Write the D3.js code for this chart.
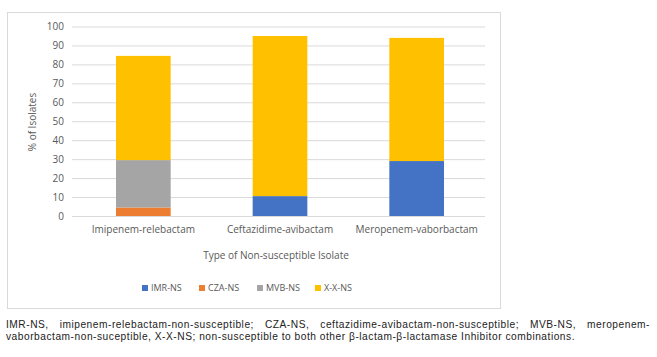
<!DOCTYPE html>
<html><head><meta charset="utf-8">
<script src="https://cdn.jsdelivr.net/npm/d3@7"></script>
<style>
body{margin:0;background:#fff;font-family:"Open Sans","Liberation Sans",sans-serif;}
#note{position:absolute;left:6px;top:319px;width:644px;color:#222;font-family:"Liberation Sans",Arial,sans-serif;}
#note div{white-space:nowrap;line-height:12px;}
#l1{text-align:justify;text-align-last:justify;}
</style></head>
<body>
<svg id="chart" width="657" height="357" style="position:absolute;left:0;top:0"></svg>
<div id="note"><div id="l1"></div><div><span id="l2"></span></div></div>
<script>
const categories = ["Imipenem-relebactam", "Ceftazidime-avibactam", "Meropenem-vaborbactam"];
const seriesNames = ["IMR-NS", "CZA-NS", "MVB-NS", "X-X-NS"];
const imrNS = [0, 10.5, 29];
const czaNS = [4.5, 0, 0];
const mvbNS = [25, 0, 0];
const xxNS = [55, 84.5, 65];
const yTicks = [0,10,20,30,40,50,60,70,80,90,100];
const colors = ["#4472C4", "#ED7D31", "#A5A5A5", "#FFC000"];
const noteLines = ["IMR-NS, imipenem-relebactam-non-susceptible; CZA-NS, ceftazidime-avibactam-non-susceptible; MVB-NS, meropenem-",
  "vaborbactam-non-suceptible, X-X-NS; non-susceptible to both other β-lactam-β-lactamase Inhibitor combinations."];

const svg = d3.select("#chart");
svg.append("rect").attr("x",7.5).attr("y",12.5).attr("width",493).attr("height",296)
  .attr("fill","#fff").attr("stroke","#d9d9d9");

const x = d3.scaleBand().domain(categories).range([75,485]).paddingInner(0.6).paddingOuter(0.3);
const y = d3.scaleLinear().domain([0,100]).range([216,26.5]);

const yAxis = d3.axisLeft(y).tickValues(yTicks).tickSize(-(485-72)).tickPadding(8);
const gy = svg.append("g").attr("transform","translate(72,0)").call(yAxis);
gy.select(".domain").remove();
gy.selectAll(".tick line").attr("stroke","#d9d9d9");
gy.selectAll(".tick text").attr("fill","#595959").style("font-size","10px").style("font-family","Open Sans, Liberation Sans, sans-serif");

const table = categories.map((c,i)=>({cat:c, "IMR-NS":imrNS[i], "CZA-NS":czaNS[i], "MVB-NS":mvbNS[i], "X-X-NS":xxNS[i]}));
const stack = d3.stack().keys(seriesNames)(table);
svg.append("g").selectAll("g").data(stack).join("g").attr("fill",(d,i)=>colors[i])
  .selectAll("rect").data(d=>d).join("rect")
  .attr("x",d=>x(d.data.cat)).attr("width",x.bandwidth())
  .attr("y",d=>y(d[1])).attr("height",d=>y(d[0])-y(d[1]));

const xAxis = d3.axisBottom(x).tickSize(0).tickPadding(10);
const gx = svg.append("g").attr("transform","translate(0,216)").call(xAxis);
gx.select(".domain").remove();
gx.selectAll(".tick text").attr("fill","#595959").style("font-size","10px").style("font-family","Open Sans, Liberation Sans, sans-serif");

svg.append("text").attr("x",276).attr("y",259).attr("text-anchor","middle")
  .attr("fill","#595959").style("font-size","10px").text("Type of Non-susceptible Isolate");
svg.append("text").attr("transform","translate(36,122) rotate(-90)").attr("text-anchor","middle")
  .attr("fill","#595959").style("font-size","10px").text("% of Isolates");

const legX = [142, 199, 257, 315];
const leg = svg.append("g").selectAll("g").data(seriesNames).join("g")
  .attr("transform",(d,i)=>`translate(${legX[i]},291)`);
leg.append("rect").attr("x",0).attr("y",-6).attr("width",6).attr("height",6).attr("fill",(d,i)=>colors[i]);
leg.append("text").attr("x",9).attr("y",0).attr("fill","#595959").style("font-size","9px").text(d=>d);

// footnote: 10.2px, letter-spacing so that second line ends near x=575
d3.select("#l1").text(noteLines[0]);
const l2 = d3.select("#l2").text(noteLines[1]);
d3.select("#note").style("font-size", "10.2px");
const w = l2.node().getBoundingClientRect().width;
const ls = Math.max(0, (569 - w) / noteLines[1].length);
d3.select("#note").style("letter-spacing", ls.toFixed(3)+"px");
</script>
</body></html>
